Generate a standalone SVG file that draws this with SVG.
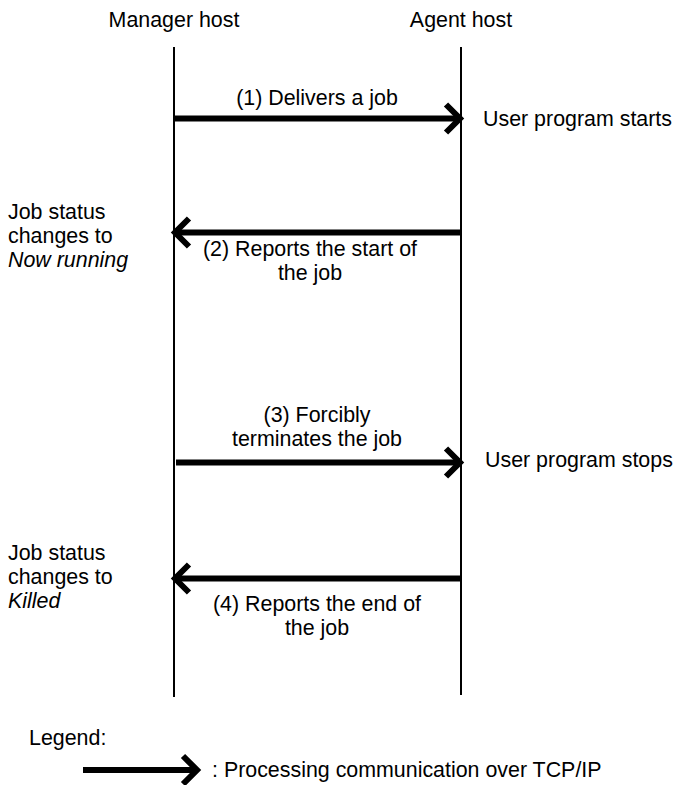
<svg xmlns="http://www.w3.org/2000/svg" width="674" height="785" viewBox="0 0 674 785">
<style>
text{font-family:"Liberation Sans",Arial,sans-serif;font-size:21.4px;fill:#000}
.m{text-anchor:middle}
.i{font-style:italic}
.life{stroke:#000;stroke-width:2;fill:none}
.msg{stroke:#000;stroke-width:6;fill:none}
.head{stroke:#000;stroke-width:6;fill:none;stroke-linejoin:miter;stroke-linecap:butt}
</style>
<rect width="674" height="785" fill="#fff"/>
<g id="manager-host">
<text class="m" x="174" y="27">Manager host</text>
<line class="life" x1="174" y1="47" x2="174" y2="697"/>
</g>
<g id="agent-host">
<text class="m" x="461" y="27">Agent host</text>
<line class="life" x1="461" y1="47" x2="461" y2="695"/>
</g>
<g id="agent-start">
<text x="483" y="126">User program starts</text>
</g>
<g id="manager-running">
<text x="8" y="219">Job status</text>
<text x="8" y="243">changes to</text>
<text class="i" x="8" y="267">Now running</text>
</g>
<g id="agent-stop">
<text x="485" y="467">User program stops</text>
</g>
<g id="manager-killed">
<text x="8" y="560">Job status</text>
<text x="8" y="584">changes to</text>
<text class="i" x="8" y="608">Killed</text>
</g>
<g id="connectors">
<g id="msg1">
<line class="msg" x1="174" y1="118.5" x2="458" y2="118.5"/>
<path class="head" d="M446 104.5 L460 118.5 L446 132.5"/>
<text class="m" x="317" y="105">(1) Delivers a job</text>
</g>
<g id="msg2">
<line class="msg" x1="461" y1="232.5" x2="177" y2="232.5"/>
<path class="head" d="M189 218.5 L175 232.5 L189 246.5"/>
<text class="m" x="310" y="256">(2) Reports the start of</text>
<text class="m" x="310" y="280">the job</text>
</g>
<g id="msg3">
<line class="msg" x1="176" y1="462.5" x2="458" y2="462.5"/>
<path class="head" d="M446 448.5 L460 462.5 L446 476.5"/>
<text class="m" x="317" y="422">(3) Forcibly</text>
<text class="m" x="317" y="446">terminates the job</text>
</g>
<g id="msg4">
<line class="msg" x1="461" y1="578.5" x2="177" y2="578.5"/>
<path class="head" d="M189 564.5 L175 578.5 L189 592.5"/>
<text class="m" x="317" y="611">(4) Reports the end of</text>
<text class="m" x="317" y="635">the job</text>
</g>
</g>
<g id="legend">
<text x="29" y="745">Legend:</text>
<line class="msg" x1="83" y1="770" x2="194" y2="770"/>
<path class="head" d="M183 756 L197 770 L183 784"/>
<text x="212" y="777">: Processing communication over TCP/IP</text>
</g>
</svg>
